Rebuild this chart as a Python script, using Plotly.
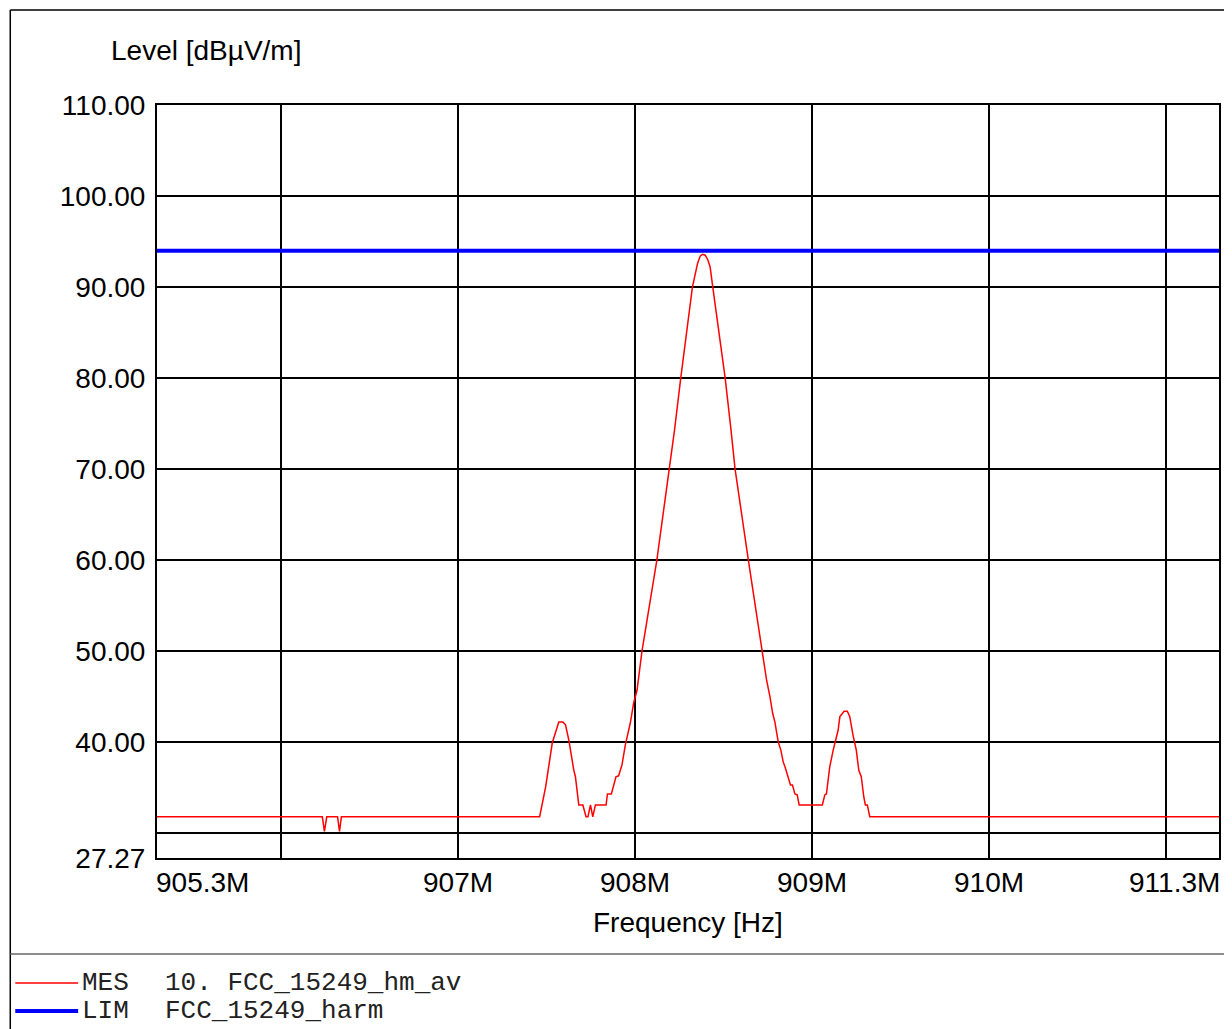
import plotly.graph_objects as go

# ---------------- data ----------------
mes_freq_mhz = [905.300, 906.234, 906.246, 906.259, 906.320, 906.331, 906.342,
                907.462, 907.496, 907.533, 907.570, 907.593, 907.608, 907.627,
                907.655, 907.664, 907.683, 907.706, 907.724, 907.735, 907.749,
                907.762, 907.777, 907.837, 907.845, 907.867, 907.893, 907.908,
                907.927, 907.946, 907.974, 907.993, 908.012, 908.040, 908.124,
                908.196, 908.224, 908.259, 908.293, 908.325, 908.354, 908.369,
                908.382, 908.397, 908.412, 908.425, 908.440, 908.472, 908.510,
                908.543, 908.566, 908.641, 908.720, 908.744,
                908.763, 908.778, 908.791, 908.810, 908.825, 908.838, 908.848,
                908.866, 908.879, 908.890, 908.904, 908.917, 908.928, 909.059,
                909.073, 909.082, 909.101, 909.120, 909.148, 909.158, 909.182,
                909.200, 909.214, 909.232, 909.251, 909.265, 909.279, 909.293,
                909.302, 909.313, 909.327, 911.300]
mes_level = [31.8, 31.8, 30.2, 31.8, 31.8, 30.2, 31.8,
             31.8, 35.1, 39.9, 42.2, 42.2, 41.9, 40.2,
             36.9, 36.2, 33.1, 33.1, 31.8, 31.8, 33.1,
             31.8, 33.1, 33.1, 34.3, 34.3, 36.2, 36.3,
             37.5, 39.7, 42.1, 44.3, 45.7, 50.0, 60.0,
             70.0, 74.3, 80.0, 85.3, 90.0, 92.6, 93.4,
             93.6, 93.5, 93.0, 92.2, 90.0, 85.3, 80.0,
             74.3, 70.0, 60.0, 50.0, 46.8,
             45.0, 43.2, 42.2, 40.0, 39.1, 37.8, 37.3,
             36.2, 35.3, 35.3, 34.3, 34.2, 33.1, 33.1,
             34.2, 34.3, 37.3, 39.1, 41.3, 42.8, 43.4,
             43.4, 42.8, 40.8, 39.1, 36.9, 36.2, 34.0,
             33.1, 33.1, 31.8, 31.8]

lim_freq_mhz = [905.3, 911.3]
lim_level = [94.0, 94.0]

x_range = [905.3, 911.3]
y_range = [27.27, 110.0]
x_grid_vals = [906, 907, 908, 909, 910, 911]
x_label_vals = [905.3, 907, 908, 909, 910, 911.3]
x_label_text = ["905.3M", "907M", "908M", "909M", "910M", "911.3M"]
y_tick_vals = [27.27, 30, 40, 50, 60, 70, 80, 90, 100, 110]
y_tick_text = ["27.27", "", "40.00", "50.00", "60.00", "70.00", "80.00", "90.00", "100.00", "110.00"]

legend_names = ["MES", "LIM"]
legend_desc = ["10. FCC_15249_hm_av", "FCC_15249_harm"]

# ---------------- layout constants (pixels) ----------------
OFF = 8  # page body margin
W, H = 1216, 1021
L, T = 157 - OFF, 105 - OFF
R = W - (1221 - OFF)
B = H - (858 - OFF)
PW = W - L - R
PH = H - T - B


def px(xs):
    """screen x -> paper fraction"""
    return (xs - OFF - L) / PW


def py(ys):
    """screen y -> paper fraction"""
    return (H - B - (ys - OFF)) / PH


SANS = "Arial, Liberation Sans, sans-serif"
MONO = "Liberation Mono, Courier New, monospace"
FS = 28

fig = go.Figure()
fig.add_trace(go.Scatter(x=mes_freq_mhz, y=mes_level, mode="lines",
                         line=dict(color="#ff0000", width=1.5), name="MES"))
fig.add_trace(go.Scatter(x=lim_freq_mhz, y=lim_level, mode="lines",
                         line=dict(color="#0000ff", width=4), name="LIM"))

fig.update_xaxes(range=x_range, tickvals=x_grid_vals, showticklabels=False,
                 showgrid=True, gridcolor="black", gridwidth=1.5,
                 showline=True, linecolor="black", linewidth=2, mirror=True,
                 zeroline=False, ticks="")
fig.update_yaxes(range=y_range, tickvals=y_tick_vals, ticktext=y_tick_text,
                 showgrid=True, gridcolor="black", gridwidth=1.5,
                 showline=True, linecolor="black", linewidth=2, mirror=True,
                 zeroline=False, ticks="", ticklabelstandoff=4,
                 tickfont=dict(family=SANS, size=FS, color="black"))

annotations = []
for v, t in zip(x_label_vals, x_label_text):
    if v == x_range[0]:
        anchor = "left"
    elif v == x_range[1]:
        anchor = "right"
    else:
        anchor = "center"
    annotations.append(dict(x=v, xref="x", y=py(882), yref="paper", text=t,
                            showarrow=False, xanchor=anchor, yanchor="middle",
                            xshift=(-3 if anchor == "left" else (3 if anchor == "right" else 0)),
                            font=dict(family=SANS, size=FS, color="black")))
annotations.append(dict(x=0.5, xref="paper", y=py(922), yref="paper",
                        text="Frequency [Hz]", showarrow=False,
                        xanchor="center", yanchor="middle",
                        font=dict(family=SANS, size=FS, color="black")))
annotations.append(dict(x=px(109), xref="paper", y=py(50), yref="paper",
                        text="Level [dBµV/m]", showarrow=False,
                        xanchor="left", yanchor="middle",
                        font=dict(family=SANS, size=FS, color="black")))

legend_rows_y = [983, 1011]
legend_colors = ["#ff0000", "#0000ff"]
legend_widths = [1.5, 4]
shapes = []
for name, desc, yy, col, wd in zip(legend_names, legend_desc, legend_rows_y,
                                   legend_colors, legend_widths):
    shapes.append(dict(type="line", xref="paper", yref="paper",
                       x0=px(15), x1=px(78), y0=py(yy), y1=py(yy),
                       line=dict(color=col, width=wd)))
    annotations.append(dict(x=px(80), xref="paper", y=py(yy), yref="paper",
                            text=name, showarrow=False, xanchor="left",
                            yanchor="middle",
                            font=dict(family=MONO, size=26, color="#222222")))
    annotations.append(dict(x=px(163), xref="paper", y=py(yy), yref="paper",
                            text=desc, showarrow=False, xanchor="left",
                            yanchor="middle",
                            font=dict(family=MONO, size=26, color="#222222")))

# outer frame and legend separator
shapes.append(dict(type="line", xref="paper", yref="paper",
                   x0=px(10), x1=px(10), y0=py(10), y1=py(1040),
                   line=dict(color="black", width=1.5)))
shapes.append(dict(type="line", xref="paper", yref="paper",
                   x0=px(10), x1=px(1240), y0=py(10), y1=py(10),
                   line=dict(color="black", width=1.5)))
shapes.append(dict(type="line", xref="paper", yref="paper",
                   x0=px(10), x1=px(1240), y0=py(954), y1=py(954),
                   line=dict(color="#666666", width=1.5)))

fig.update_layout(width=W, height=H,
                  margin=dict(l=L, r=R, t=T, b=B, pad=0),
                  paper_bgcolor="white", plot_bgcolor="white",
                  showlegend=False, annotations=annotations, shapes=shapes)

fig.write_html("out.html")
